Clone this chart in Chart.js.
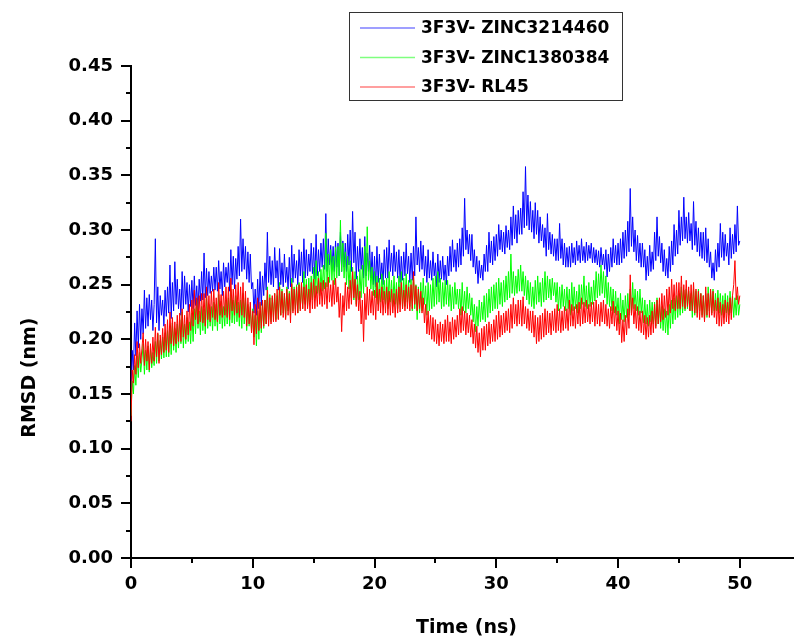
<!DOCTYPE html>
<html>
<head>
<meta charset="utf-8">
<script src="https://cdn.jsdelivr.net/npm/chart.js@4.4.1/dist/chart.umd.min.js"></script>
<style>
html,body{margin:0;padding:0;background:#fff;}
#wrap{width:794px;height:639px;position:relative;}
</style>
</head>
<body>
<div id="wrap"><canvas id="c" width="794" height="639"></canvas></div>
<script>
// ---- data (RMSD in nm, sampled every 0.1 ns from 0 to 50 ns; one row = 1 ns) ----
const timeStep = 0.1;
const seriesLabels = ["3F3V- ZINC3214460", "3F3V- ZINC1380384", "3F3V- RL45"];

const rmsdZinc3214460 = [
0.140,0.190,0.172,0.215,0.185,0.226,0.192,0.232,0.200,0.228,
0.205,0.245,0.210,0.238,0.212,0.241,0.218,0.236,0.208,0.232,
0.292,0.215,0.248,0.208,0.240,0.222,0.236,0.212,0.245,0.221,
0.248,0.224,0.268,0.219,0.252,0.226,0.271,0.232,0.255,0.228,
0.246,0.222,0.262,0.228,0.258,0.232,0.252,0.225,0.250,0.230,
0.254,0.228,0.258,0.231,0.249,0.226,0.255,0.235,0.262,0.236,
0.279,0.238,0.265,0.240,0.262,0.242,0.258,0.244,0.266,0.245,
0.266,0.244,0.272,0.246,0.262,0.240,0.270,0.248,0.266,0.252,
0.270,0.244,0.282,0.250,0.276,0.246,0.274,0.255,0.285,0.258,
0.310,0.262,0.292,0.264,0.285,0.255,0.280,0.252,0.278,0.246,
0.252,0.224,0.246,0.222,0.255,0.228,0.262,0.231,0.258,0.240,
0.270,0.245,0.298,0.252,0.276,0.250,0.272,0.248,0.284,0.256,
0.272,0.245,0.283,0.250,0.270,0.248,0.278,0.252,0.266,0.246,
0.275,0.248,0.286,0.252,0.278,0.256,0.272,0.250,0.282,0.258,
0.280,0.252,0.292,0.256,0.282,0.258,0.278,0.262,0.288,0.260,
0.284,0.255,0.296,0.258,0.282,0.262,0.288,0.266,0.292,0.264,
0.315,0.262,0.292,0.268,0.286,0.264,0.285,0.262,0.290,0.266,
0.288,0.258,0.298,0.262,0.290,0.266,0.288,0.262,0.296,0.268,
0.300,0.262,0.317,0.270,0.298,0.255,0.285,0.262,0.292,0.264,
0.284,0.256,0.294,0.258,0.279,0.262,0.286,0.256,0.280,0.250,
0.276,0.248,0.285,0.252,0.278,0.255,0.270,0.250,0.282,0.256,
0.284,0.256,0.291,0.262,0.279,0.258,0.286,0.262,0.280,0.256,
0.282,0.252,0.276,0.254,0.280,0.258,0.288,0.260,0.276,0.252,
0.279,0.254,0.285,0.258,0.312,0.268,0.284,0.262,0.290,0.264,
0.286,0.258,0.276,0.252,0.282,0.256,0.272,0.254,0.280,0.258,
0.270,0.248,0.278,0.252,0.272,0.255,0.276,0.254,0.268,0.250,
0.276,0.258,0.285,0.262,0.291,0.266,0.282,0.262,0.288,0.266,
0.292,0.268,0.302,0.276,0.329,0.282,0.300,0.278,0.296,0.272,
0.296,0.266,0.282,0.260,0.276,0.251,0.272,0.256,0.268,0.254,
0.278,0.262,0.286,0.262,0.298,0.270,0.290,0.268,0.294,0.272,
0.296,0.276,0.305,0.282,0.300,0.280,0.298,0.278,0.304,0.284,
0.300,0.282,0.312,0.286,0.322,0.292,0.314,0.288,0.318,0.296,
0.320,0.296,0.335,0.302,0.358,0.304,0.332,0.300,0.326,0.298,
0.318,0.292,0.325,0.296,0.318,0.288,0.312,0.290,0.305,0.284,
0.302,0.276,0.315,0.282,0.298,0.278,0.296,0.276,0.292,0.272,
0.292,0.272,0.306,0.274,0.292,0.268,0.288,0.266,0.284,0.266,
0.285,0.266,0.288,0.270,0.284,0.268,0.290,0.272,0.286,0.270,
0.292,0.272,0.285,0.270,0.289,0.272,0.286,0.274,0.288,0.270,
0.284,0.270,0.282,0.268,0.281,0.266,0.284,0.268,0.278,0.264,
0.282,0.257,0.278,0.262,0.284,0.266,0.292,0.270,0.286,0.268,
0.288,0.268,0.292,0.270,0.298,0.274,0.300,0.276,0.308,0.280,
0.338,0.285,0.312,0.280,0.300,0.272,0.295,0.270,0.288,0.266,
0.288,0.266,0.282,0.254,0.276,0.258,0.286,0.262,0.280,0.264,
0.298,0.272,0.312,0.276,0.294,0.270,0.288,0.262,0.282,0.258,
0.274,0.256,0.285,0.262,0.290,0.268,0.305,0.276,0.300,0.278,
0.318,0.286,0.312,0.290,0.330,0.292,0.312,0.288,0.316,0.290,
0.306,0.282,0.326,0.286,0.308,0.280,0.302,0.276,0.298,0.274,
0.298,0.272,0.302,0.270,0.292,0.266,0.280,0.256,0.270,0.254,
0.282,0.262,0.288,0.266,0.306,0.275,0.298,0.272,0.296,0.276,
0.288,0.268,0.302,0.274,0.296,0.278,0.305,0.280,0.322,0.286,
0.290
];

const rmsdZinc1380384 = [
0.130,0.162,0.150,0.176,0.158,0.185,0.165,0.188,0.170,0.182,
0.196,0.168,0.190,0.172,0.194,0.170,0.192,0.174,0.188,0.176,
0.198,0.178,0.205,0.180,0.199,0.182,0.202,0.183,0.206,0.184,
0.208,0.184,0.212,0.186,0.215,0.190,0.210,0.188,0.214,0.192,
0.218,0.196,0.225,0.192,0.214,0.196,0.220,0.198,0.216,0.196,
0.224,0.198,0.228,0.205,0.236,0.210,0.226,0.204,0.230,0.208,
0.228,0.205,0.238,0.210,0.232,0.212,0.230,0.208,0.234,0.212,
0.232,0.208,0.241,0.214,0.235,0.210,0.230,0.212,0.236,0.214,
0.238,0.212,0.246,0.215,0.236,0.214,0.240,0.216,0.234,0.212,
0.236,0.210,0.242,0.214,0.238,0.208,0.232,0.212,0.230,0.206,
0.228,0.202,0.222,0.194,0.226,0.200,0.232,0.206,0.234,0.210,
0.236,0.214,0.248,0.218,0.241,0.216,0.238,0.220,0.242,0.218,
0.240,0.219,0.252,0.222,0.246,0.224,0.242,0.220,0.248,0.226,
0.244,0.222,0.256,0.226,0.248,0.228,0.250,0.224,0.252,0.228,
0.250,0.228,0.262,0.232,0.255,0.230,0.256,0.234,0.258,0.236,
0.266,0.238,0.272,0.242,0.262,0.240,0.264,0.244,0.268,0.246,
0.297,0.248,0.278,0.252,0.282,0.254,0.276,0.250,0.284,0.256,
0.285,0.258,0.309,0.262,0.288,0.256,0.280,0.250,0.276,0.246,
0.272,0.238,0.266,0.236,0.262,0.232,0.258,0.236,0.264,0.238,
0.268,0.242,0.285,0.248,0.303,0.254,0.272,0.246,0.266,0.240,
0.262,0.238,0.258,0.232,0.256,0.234,0.260,0.236,0.254,0.232,
0.256,0.228,0.262,0.234,0.254,0.230,0.258,0.232,0.252,0.228,
0.258,0.232,0.262,0.228,0.256,0.230,0.260,0.234,0.254,0.230,
0.255,0.226,0.258,0.228,0.250,0.218,0.248,0.224,0.252,0.226,
0.256,0.232,0.249,0.222,0.252,0.226,0.250,0.228,0.256,0.230,
0.258,0.232,0.262,0.234,0.256,0.228,0.252,0.230,0.254,0.232,
0.254,0.230,0.250,0.226,0.248,0.228,0.252,0.232,0.246,0.228,
0.246,0.222,0.252,0.226,0.244,0.224,0.248,0.228,0.242,0.222,
0.238,0.216,0.232,0.207,0.230,0.212,0.236,0.216,0.234,0.218,
0.240,0.216,0.242,0.220,0.246,0.224,0.248,0.226,0.250,0.228,
0.252,0.228,0.256,0.232,0.252,0.230,0.254,0.234,0.258,0.236,
0.262,0.238,0.278,0.242,0.262,0.240,0.258,0.242,0.264,0.244,
0.268,0.244,0.262,0.240,0.258,0.236,0.254,0.232,0.252,0.230,
0.248,0.228,0.254,0.232,0.258,0.234,0.252,0.230,0.256,0.234,
0.262,0.236,0.258,0.238,0.255,0.236,0.256,0.240,0.252,0.234,
0.252,0.226,0.248,0.228,0.250,0.230,0.246,0.226,0.248,0.228,
0.246,0.222,0.252,0.226,0.248,0.228,0.244,0.224,0.250,0.228,
0.250,0.232,0.258,0.230,0.249,0.228,0.252,0.230,0.248,0.232,
0.254,0.235,0.262,0.238,0.260,0.240,0.268,0.242,0.262,0.238,
0.258,0.232,0.252,0.230,0.248,0.226,0.246,0.224,0.244,0.222,
0.238,0.214,0.242,0.218,0.236,0.216,0.240,0.220,0.242,0.222,
0.246,0.224,0.252,0.228,0.246,0.226,0.244,0.222,0.246,0.224,
0.238,0.215,0.236,0.214,0.232,0.212,0.236,0.216,0.234,0.214,
0.234,0.212,0.238,0.214,0.232,0.210,0.230,0.208,0.228,0.206,
0.226,0.204,0.232,0.210,0.236,0.214,0.238,0.218,0.240,0.220,
0.242,0.222,0.248,0.224,0.245,0.226,0.246,0.228,0.244,0.226,
0.242,0.220,0.246,0.222,0.244,0.224,0.246,0.226,0.242,0.222,
0.240,0.218,0.242,0.220,0.248,0.226,0.244,0.224,0.246,0.226,
0.242,0.226,0.245,0.224,0.242,0.222,0.240,0.220,0.242,0.224,
0.240,0.222,0.244,0.224,0.240,0.220,0.238,0.222,0.240,0.222,
0.232
];

const rmsdRL45 = [
0.125,0.172,0.160,0.186,0.168,0.198,0.174,0.196,0.178,0.192,
0.206,0.176,0.200,0.180,0.198,0.172,0.196,0.178,0.202,0.180,
0.211,0.184,0.206,0.178,0.204,0.186,0.210,0.188,0.214,0.190,
0.218,0.188,0.225,0.196,0.220,0.194,0.216,0.196,0.222,0.198,
0.224,0.198,0.228,0.202,0.222,0.200,0.226,0.204,0.232,0.208,
0.236,0.212,0.245,0.218,0.238,0.214,0.240,0.216,0.242,0.215,
0.242,0.212,0.248,0.218,0.240,0.216,0.244,0.220,0.246,0.218,
0.238,0.216,0.252,0.222,0.241,0.220,0.244,0.222,0.248,0.220,
0.248,0.218,0.256,0.226,0.246,0.222,0.250,0.224,0.252,0.220,
0.248,0.222,0.252,0.220,0.244,0.212,0.238,0.214,0.234,0.206,
0.226,0.195,0.232,0.205,0.238,0.208,0.234,0.210,0.236,0.212,
0.236,0.214,0.245,0.212,0.238,0.214,0.240,0.216,0.242,0.216,
0.246,0.218,0.248,0.222,0.244,0.220,0.242,0.218,0.246,0.222,
0.242,0.215,0.251,0.224,0.246,0.222,0.248,0.224,0.250,0.226,
0.252,0.228,0.248,0.226,0.250,0.228,0.246,0.224,0.252,0.228,
0.255,0.228,0.249,0.230,0.256,0.232,0.252,0.230,0.254,0.232,
0.252,0.228,0.257,0.234,0.250,0.230,0.254,0.232,0.256,0.234,
0.248,0.220,0.242,0.207,0.240,0.222,0.252,0.226,0.248,0.228,
0.254,0.232,0.262,0.238,0.255,0.230,0.250,0.226,0.244,0.214,
0.236,0.198,0.242,0.218,0.248,0.222,0.246,0.224,0.244,0.222,
0.245,0.218,0.252,0.226,0.246,0.224,0.248,0.222,0.244,0.224,
0.248,0.222,0.244,0.222,0.246,0.224,0.242,0.220,0.246,0.224,
0.248,0.225,0.252,0.228,0.245,0.226,0.250,0.228,0.248,0.226,
0.250,0.228,0.262,0.232,0.249,0.226,0.246,0.228,0.244,0.224,
0.238,0.215,0.232,0.205,0.226,0.204,0.222,0.200,0.220,0.198,
0.218,0.196,0.214,0.194,0.216,0.198,0.214,0.196,0.218,0.198,
0.222,0.198,0.216,0.196,0.220,0.200,0.218,0.202,0.222,0.204,
0.228,0.206,0.230,0.208,0.226,0.204,0.224,0.206,0.222,0.202,
0.218,0.196,0.214,0.192,0.212,0.188,0.206,0.184,0.210,0.190,
0.212,0.190,0.214,0.194,0.216,0.196,0.214,0.198,0.218,0.198,
0.222,0.200,0.226,0.202,0.222,0.204,0.224,0.206,0.226,0.208,
0.228,0.206,0.232,0.210,0.238,0.214,0.232,0.212,0.236,0.214,
0.236,0.212,0.239,0.214,0.230,0.210,0.228,0.208,0.226,0.206,
0.226,0.202,0.222,0.196,0.220,0.198,0.222,0.200,0.224,0.202,
0.228,0.204,0.226,0.206,0.224,0.204,0.226,0.208,0.228,0.206,
0.232,0.208,0.228,0.206,0.226,0.208,0.230,0.210,0.228,0.208,
0.236,0.212,0.232,0.212,0.230,0.210,0.232,0.214,0.234,0.212,
0.238,0.214,0.234,0.215,0.236,0.216,0.232,0.214,0.234,0.216,
0.234,0.212,0.236,0.214,0.232,0.212,0.234,0.216,0.236,0.214,
0.232,0.212,0.228,0.210,0.230,0.214,0.235,0.212,0.230,0.208,
0.226,0.204,0.224,0.197,0.218,0.198,0.222,0.204,0.228,0.210,
0.259,0.222,0.238,0.214,0.232,0.210,0.230,0.208,0.226,0.206,
0.226,0.204,0.222,0.200,0.220,0.202,0.222,0.204,0.226,0.206,
0.232,0.210,0.236,0.214,0.238,0.216,0.242,0.218,0.240,0.220,
0.246,0.222,0.248,0.224,0.255,0.228,0.250,0.226,0.252,0.228,
0.252,0.228,0.258,0.230,0.250,0.228,0.254,0.230,0.248,0.226,
0.250,0.226,0.252,0.224,0.246,0.220,0.244,0.218,0.242,0.220,
0.240,0.216,0.248,0.222,0.242,0.220,0.246,0.222,0.244,0.220,
0.236,0.214,0.238,0.212,0.234,0.212,0.232,0.214,0.236,0.216,
0.234,0.214,0.238,0.218,0.240,0.250,0.272,0.236,0.248,0.232,
0.240
];

const xTickValues = [0, 10, 20, 30, 40, 50];
const xMinorTickValues = [5, 15, 25, 35, 45];
const yTickValues = [0, 0.05, 0.10, 0.15, 0.20, 0.25, 0.30, 0.35, 0.40, 0.45];
const yMinorTickValues = [0.025, 0.075, 0.125, 0.175, 0.225, 0.275, 0.325, 0.375, 0.425];
const xTitle = "Time (ns)";
const yTitle = "RMSD (nm)";

// ---- build ----
const toPoints = arr => arr.map((v, i) => ({x: +(i * timeStep).toFixed(2), y: v}));
const colors = ["#0000ff", "#00ff00", "#ff0000"];
const legendColors = ["#7f7fff", "#7fff7f", "#ff7f7f"];
const seriesData = [rmsdZinc3214460, rmsdZinc1380384, rmsdRL45];

const FONT = "'DejaVu Sans', sans-serif";

const extras = {
  id: 'extras',
  afterDraw(chart) {
    const ctx = chart.ctx;
    const ca = chart.chartArea;
    const xs = chart.scales.x, ys = chart.scales.y;
    ctx.save();
    // minor ticks
    ctx.strokeStyle = '#000';
    ctx.lineWidth = 2;
    ctx.beginPath();
    yMinorTickValues.forEach(v => {
      const p = Math.round(ys.getPixelForValue(v));
      ctx.moveTo(ca.left - 5, p); ctx.lineTo(ca.left, p);
    });
    xMinorTickValues.forEach(v => {
      const p = Math.round(xs.getPixelForValue(v));
      ctx.moveTo(p, ca.bottom); ctx.lineTo(p, ca.bottom + 5);
    });
    ctx.stroke();
    // axis titles
    ctx.fillStyle = '#000';
    ctx.font = "bold 19px " + FONT;
    ctx.textAlign = 'center';
    ctx.textBaseline = 'middle';
    ctx.fillText(xTitle, (xs.getPixelForValue(0) + xs.getPixelForValue(50)) / 2 + 31, 628);
    ctx.save();
    ctx.translate(30, ys.getPixelForValue(0.165));
    ctx.rotate(-Math.PI / 2);
    ctx.fillText(yTitle, 0, 0);
    ctx.restore();
    // legend
    const bx = 349.5, by = 12.5, bw = 273, bh = 88;
    ctx.strokeStyle = '#333';
    ctx.lineWidth = 1;
    ctx.strokeRect(bx, by, bw, bh);
    ctx.font = "bold 17px " + FONT;
    ctx.textAlign = 'left';
    chart.data.datasets.forEach((ds, i) => {
      const yy = 28 + i * 29.5;
      ctx.strokeStyle = legendColors[i];
      ctx.lineWidth = 1.5;
      ctx.beginPath();
      ctx.moveTo(360, yy); ctx.lineTo(415, yy);
      ctx.stroke();
      ctx.fillStyle = '#000';
      ctx.fillText(ds.label, 421, yy + 1);
    });
    ctx.restore();
  }
};

new Chart(document.getElementById('c'), {
  type: 'line',
  data: {
    datasets: seriesData.map((arr, i) => ({
      label: seriesLabels[i],
      data: toPoints(arr),
      borderColor: colors[i],
      backgroundColor: colors[i],
      borderWidth: 1,
      pointRadius: 0,
      tension: 0,
      fill: false,
      order: 2 - i
    }))
  },
  options: {
    responsive: false,
    animation: false,
    events: [],
    layout: {padding: {top: 66, left: 0, right: 0, bottom: 0}},
    plugins: {legend: {display: false}, tooltip: {enabled: false}},
    scales: {
      x: {
        type: 'linear',
        min: 0, max: 54.45,
        afterFit: s => { s.height = 81; },
        afterBuildTicks: s => { s.ticks = xTickValues.map(v => ({value: v})); },
        border: {color: '#000', width: 2},
        grid: {drawOnChartArea: false, drawTicks: true, tickLength: 10, color: '#000', lineWidth: 2},
        ticks: {
          color: '#000', font: {family: FONT, size: 18, weight: 'bold'},
          padding: 6, maxRotation: 0, autoSkip: false,
          callback: v => String(v)
        },
        title: {display: false}
      },
      y: {
        type: 'linear',
        min: 0, max: 0.45,
        afterFit: s => { s.width = 131; },
        afterBuildTicks: s => { s.ticks = yTickValues.map(v => ({value: v})); },
        border: {color: '#000', width: 2},
        grid: {drawOnChartArea: false, drawTicks: true, tickLength: 10, color: '#000', lineWidth: 2},
        ticks: {
          color: '#000', font: {family: FONT, size: 18, weight: 'bold'},
          padding: 8, autoSkip: false,
          callback: v => Number(v).toFixed(2)
        },
        title: {display: false}
      }
    }
  },
  plugins: [extras]
});
</script>
</body>
</html>
